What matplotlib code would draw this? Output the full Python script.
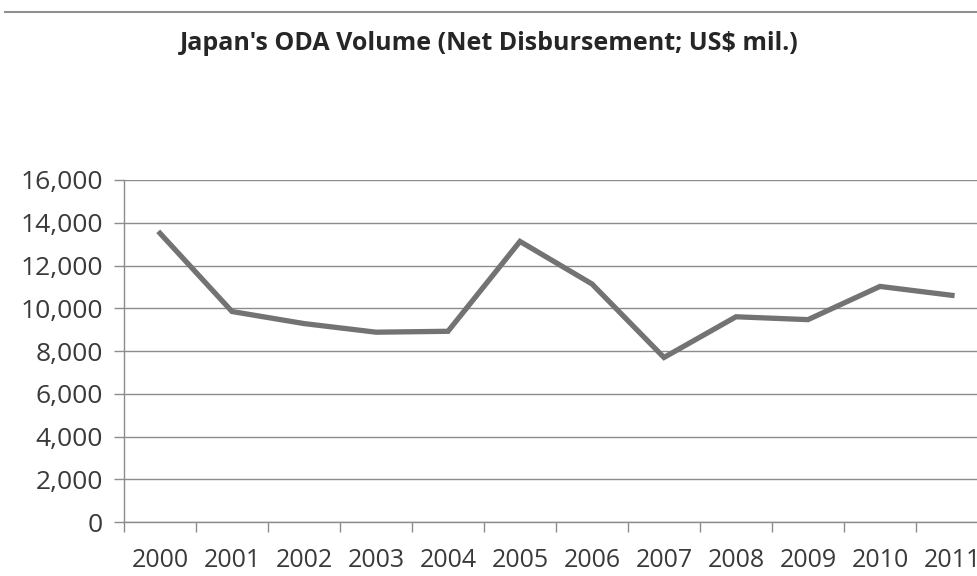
import matplotlib.pyplot as plt
from matplotlib.ticker import FuncFormatter

years = ["2000", "2001", "2002", "2003", "2004", "2005",
         "2006", "2007", "2008", "2009", "2010", "2011"]
oda = [13508, 9847, 9283, 8880, 8922, 13126,
       11136, 7697, 9601, 9467, 11021, 10604]
yticks = [0, 2000, 4000, 6000, 8000, 10000, 12000, 14000, 16000]

plt.rcParams['font.family'] = ['Open Sans', 'DejaVu Sans']

fig = plt.figure(figsize=(9.78, 5.76), dpi=100)
ax = fig.add_axes([0.1268, 0.09375, 0.8834, 0.59375])

x = list(range(len(years)))
ax.plot(x, oda, color='#737373', linewidth=3.8, solid_joinstyle='miter', zorder=3)

ax.set_xlim(-0.5, len(years) - 0.5)
ax.set_ylim(0, 16000)
ax.set_yticks(yticks)
ax.yaxis.set_major_formatter(FuncFormatter(lambda v, p: f"{int(v):,}"))
ax.grid(axis='y', color='#8c8c8c', linewidth=1.0)
ax.set_axisbelow(True)

# category labels centred, tick marks on the boundaries
ax.set_xticks(x)
ax.set_xticklabels(years)
ax.set_xticks([i - 0.5 for i in range(len(years) + 1)], minor=True)
ax.tick_params(axis='x', which='major', length=0, pad=19,
               labelsize=18, labelcolor='#3a3a3a')
ax.tick_params(axis='x', which='minor', length=7, color='#8c8c8c', width=1.0)
ax.tick_params(axis='y', length=7, color='#8c8c8c', width=1.0, pad=8,
               labelsize=19, labelcolor='#3a3a3a')

for s in ['top', 'right']:
    ax.spines[s].set_visible(False)
for s in ['left', 'bottom']:
    ax.spines[s].set_color('#8c8c8c')
    ax.spines[s].set_linewidth(1.0)

fig.text(0.5, 0.925, "Japan's ODA Volume (Net Disbursement; US$ mil.)",
         ha='center', va='center', fontsize=18, fontweight='bold', color='#262626')

# thin rule along the top of the page
fig.add_artist(plt.Line2D([0.005, 1.0], [0.979, 0.979], color='#909090', linewidth=1.5))

fig.savefig("out.png", dpi=100)
